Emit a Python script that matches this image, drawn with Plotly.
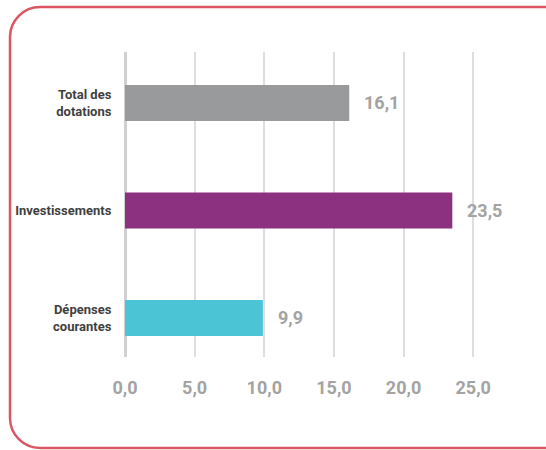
import plotly.graph_objects as go

categories = ["Dépenses<br>courantes", "Investissements", "Total des<br>dotations"]
values = [9.9, 23.5, 16.1]
value_labels = ["9,9", "23,5", "16,1"]
bar_colors = ["#4bc4d6", "#8b3180", "#999a9c"]
x_ticks = [0, 5, 10, 15, 20, 25]
x_tick_labels = ["0,0", "5,0", "10,0", "15,0", "20,0", "25,0"]

W, H = 546, 450
L, R, T, B = 125, 31, 52, 93
pw, ph = W - L - R, H - T - B

FONT = "Roboto, Liberation Sans, sans-serif"

fig = go.Figure()
fig.add_trace(go.Bar(
    y=categories, x=values, orientation="h",
    marker=dict(color=bar_colors, line=dict(width=0)),
    width=0.335, hoverinfo="skip",
))

for c, v, t in zip(categories, values, value_labels):
    fig.add_annotation(x=v, y=c, text=t, showarrow=False, xanchor="left",
                       xshift=13, font=dict(family=FONT, size=18, color="#a3a3a3",
                                            weight="bold"))

def P(x, y):
    a, b = (x - L) / pw, (H - B - y) / ph
    return f"{a:.5f},{b:.5f}"

# rounded border (left, top, bottom)
x0, y0, x1, y1, r = 10, 7, 560, 448, 30
k = 0.45
path = (f"M {P(x1, y0)} L {P(x0 + r, y0)} "
        f"C {P(x0 + r * k, y0)} {P(x0, y0 + r * k)} {P(x0, y0 + r)} "
        f"L {P(x0, y1 - r)} "
        f"C {P(x0, y1 - r * k)} {P(x0 + r * k, y1)} {P(x0 + r, y1)} L {P(x1, y1)}")
fig.add_shape(type="path", path=path, xref="paper", yref="paper",
              line=dict(color="#dc5563", width=2.5), layer="above")

fig.update_layout(
    width=W, height=H,
    margin=dict(l=L, r=R, t=T, b=B, autoexpand=False),
    paper_bgcolor="white", plot_bgcolor="white",
    showlegend=False,
    xaxis=dict(range=[0, 28], tickvals=x_ticks, ticktext=x_tick_labels,
               showgrid=True, gridcolor="#dedede", gridwidth=2,
               zeroline=True, zerolinecolor="#d0d0d0", zerolinewidth=3,
               showline=False, ticks="outside", ticklen=14, tickcolor="rgba(0,0,0,0)",
               tickfont=dict(family=FONT, size=18, color="#a3a3a3", weight="bold"),
               fixedrange=True),
    yaxis=dict(range=[-0.363, 2.474], showgrid=False, zeroline=False, showline=False,
               ticks="outside", ticklen=10, tickcolor="rgba(0,0,0,0)",
               tickfont=dict(family=FONT, size=13, color="#3f3f3f", weight="bold"),
               fixedrange=True),
)

fig.write_html("out.html")
